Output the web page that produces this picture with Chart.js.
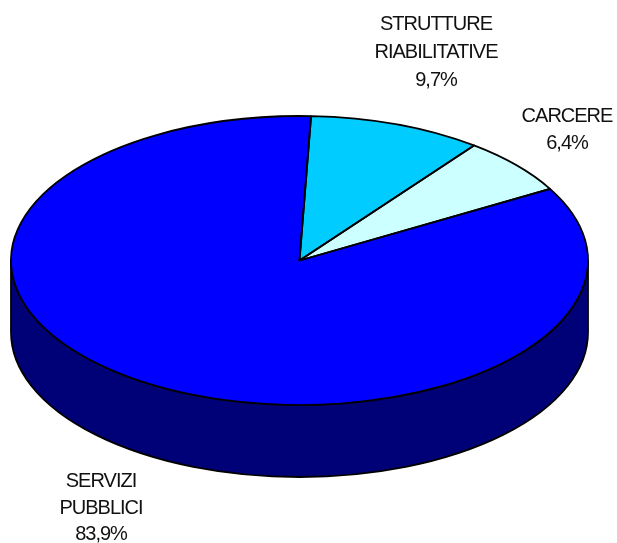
<!DOCTYPE html>
<html>
<head>
<meta charset="utf-8">
<script src="https://cdn.jsdelivr.net/npm/chart.js@4.4.1/dist/chart.umd.min.js"></script>
<style>
  html, body { margin:0; padding:0; background:#fff; }
  #wrap { width:617px; height:543px; }
</style>
</head>
<body>
<div id="wrap"><canvas id="chart" width="617" height="543"></canvas></div>
<script>
// data
const categories = ["STRUTTURE RIABILITATIVE", "CARCERE", "SERVIZI PUBBLICI"];
const labelLines = [["STRUTTURE", "RIABILITATIVE"], ["CARCERE"], ["SERVIZI", "PUBBLICI"]];
const shares = [9.7, 6.4, 83.9];

// styles
const topColors  = ["#00CCFF", "#CCFFFF", "#0000FF"];
const sideColors = ["#006680", "#668080", "#000077"];
const labelPos = [
  { x: 436, y: [30, 58, 86] },
  { x: 567, y: [122, 149] },
  { x: 101, y: [487, 514, 540] }
];
// 3d ellipse geometry
const EX = 299.5, EY = 260.5, RX = 288.5, RY = 144.5, DEPTH = 72;

function $(id){ return document.getElementById(id); }

function fmtPct(v){ return v.toFixed(1).replace(".", ",") + "%"; }

function frontParts(s, e){
  // part of a slice lying on the front half (canvas angles 0..PI)
  const out = [];
  for (let k = -2; k <= 2; k++){
    const off = k * 2 * Math.PI;
    const a = Math.max(s, off), b = Math.min(e, off + Math.PI);
    if (b > a) out.push([a - off, b - off]);
  }
  return out;
}

const pie3d = {
  id: "pie3d",
  beforeDatasetsDraw(chart){
    const ctx = chart.ctx;
    const arcs = chart.getDatasetMeta(0).data;
    ctx.save();
    ctx.lineWidth = 1.8;
    ctx.strokeStyle = "#000";
    ctx.lineJoin = "round";

    // side walls
    arcs.forEach((arc, i) => {
      frontParts(arc.startAngle, arc.endAngle).forEach(([a, b]) => {
        ctx.beginPath();
        ctx.ellipse(EX, EY, RX, RY, 0, a, b);
        ctx.lineTo(EX + RX * Math.cos(b), EY + RY * Math.sin(b) + DEPTH);
        ctx.ellipse(EX, EY + DEPTH, RX, RY, 0, b, a, true);
        ctx.closePath();
        ctx.fillStyle = sideColors[i];
        ctx.fill();
        ctx.stroke();
      });
    });

    // top faces: library arcs squashed onto the ellipse
    const a0 = arcs[0];
    ctx.save();
    ctx.translate(EX, EY);
    ctx.scale(RX / a0.outerRadius, RY / a0.outerRadius);
    ctx.translate(-a0.x, -a0.y);
    arcs.forEach(arc => arc.draw(ctx));
    ctx.restore();

    // outlines of the top faces
    arcs.forEach(arc => {
      ctx.beginPath();
      ctx.moveTo(EX, EY);
      ctx.ellipse(EX, EY, RX, RY, 0, arc.startAngle, arc.endAngle);
      ctx.closePath();
      ctx.stroke();
    });
    ctx.restore();
    return false;
  },
  afterDraw(chart){
    const ctx = chart.ctx;
    ctx.save();
    ctx.font = "20px 'Liberation Sans', Arial, sans-serif";
    ctx.letterSpacing = "-1px";
    ctx.fillStyle = "#111";
    ctx.textAlign = "center";
    ctx.textBaseline = "alphabetic";
    labelLines.forEach((lines, i) => {
      const texts = lines.concat([fmtPct(shares[i])]);
      texts.forEach((t, j) => ctx.fillText(t, labelPos[i].x, labelPos[i].y[j]));
    });
    ctx.restore();
  }
};

new Chart($("chart").getContext("2d"), {
  type: "pie",
  data: {
    labels: categories,
    datasets: [{ data: shares, backgroundColor: topColors, borderWidth: 0 }]
  },
  options: {
    responsive: false,
    animation: false,
    events: [],
    rotation: 2.3,
    plugins: { legend: { display: false }, tooltip: { enabled: false } }
  },
  plugins: [pie3d]
});
</script>
</body>
</html>
